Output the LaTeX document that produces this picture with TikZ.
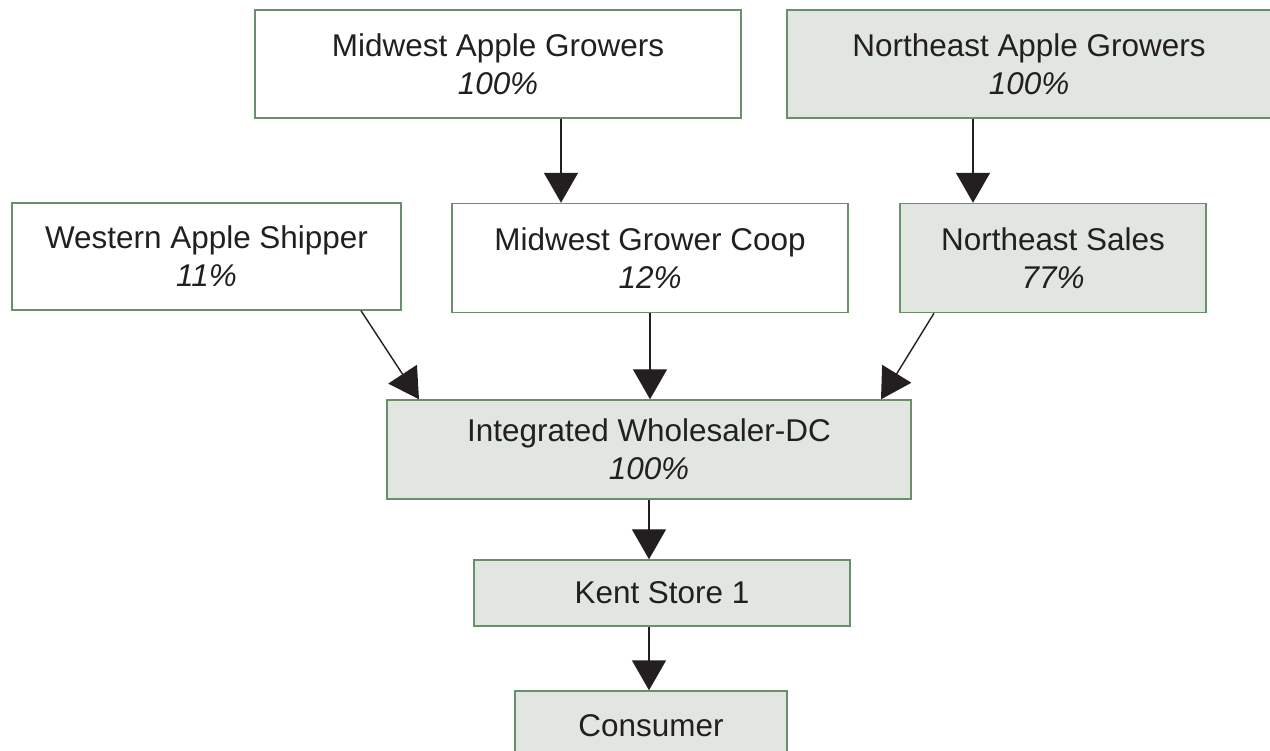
\documentclass[tikz,border=0pt]{standalone}
\usepackage{fontspec}
\setmainfont{Liberation Sans}
\usepackage{tikz}
\usetikzlibrary{arrows.meta,shapes,calc}
\usetikzlibrary{positioning}
\definecolor{edgegreen}{HTML}{6B8E6B}
\definecolor{boxfill}{HTML}{E1E6E1}
\definecolor{inkgray}{HTML}{231F20}
\tikzstyle{arrow}=[draw,-{Triangle[width=0.68cm,length=0.6cm]},line width=0.8pt,inkgray]
\tikzstyle{block} =
  [rectangle, draw=edgegreen, line width=0.8pt, text=inkgray, align=center,
   font=\fontsize{17.9}{21.5}\selectfont, minimum height=2.18cm]
\tikzstyle{shaded} = [block, fill=boxfill]

\begin{document}
\begin{tikzpicture}
  \useasboundingbox (0,0) rectangle (25.4,-15.02);
  \node [block, minimum width=9.72cm, minimum height=2.16cm] (mwag) at (9.96,-1.28)
    {Midwest Apple Growers\\\textit{100\%}};
  \node [shaded, right of=mwag, node distance=10.62cm, minimum width=9.68cm,
    minimum height=2.16cm] (neag) {Northeast Apple Growers\\\textit{100\%}};

  \node [block, below of=mwag, node distance=3.88cm, xshift=3.04cm,
    minimum width=7.92cm] (mwgc) {Midwest Grower Coop\\\textit{12\%}};
  \node [block, left of=mwgc, node distance=8.87cm, minimum width=7.78cm,
    minimum height=2.14cm, yshift=0.03cm] (was) {Western Apple Shipper\\\textit{11\%}};
  \node [shaded, right of=mwgc, node distance=8.06cm, minimum width=6.12cm]
    (nes) {Northeast Sales\\\textit{77\%}};

  \node [shaded, below of=mwgc, node distance=3.83cm, xshift=-0.02cm,
    minimum width=10.48cm, minimum height=1.98cm] (iwdc)
    {Integrated Wholesaler-DC\\\textit{100\%}};
  \node [shaded, below of=iwdc, node distance=2.87cm, xshift=0.26cm,
    minimum width=7.52cm, minimum height=1.32cm] (kent) {Kent Store 1};
  \node [shaded, below of=kent, node distance=2.65cm, xshift=-0.22cm,
    minimum width=5.44cm, minimum height=1.38cm] (cons) {Consumer};

  \draw [arrow] ([xshift=1.26cm]mwag.south) -- ([xshift=1.26cm]mwag.south |- mwgc.north);
  \draw [arrow] ([xshift=-1.12cm]neag.south) -- ([xshift=-1.12cm]neag.south |- nes.north);
  \draw [arrow] ([xshift=3.09cm]was.south) -- ([xshift=-4.6cm]iwdc.north);
  \draw [arrow] (mwgc.south) -- (mwgc.south |- iwdc.north);
  \draw [arrow] ([xshift=-2.38cm]nes.south) -- ([xshift=4.64cm]iwdc.north);
  \draw [arrow] (iwdc.south) -- (iwdc.south |- kent.north);
  \draw [arrow] (iwdc.south |- kent.south) -- (iwdc.south |- cons.north);
\end{tikzpicture}
\end{document}
